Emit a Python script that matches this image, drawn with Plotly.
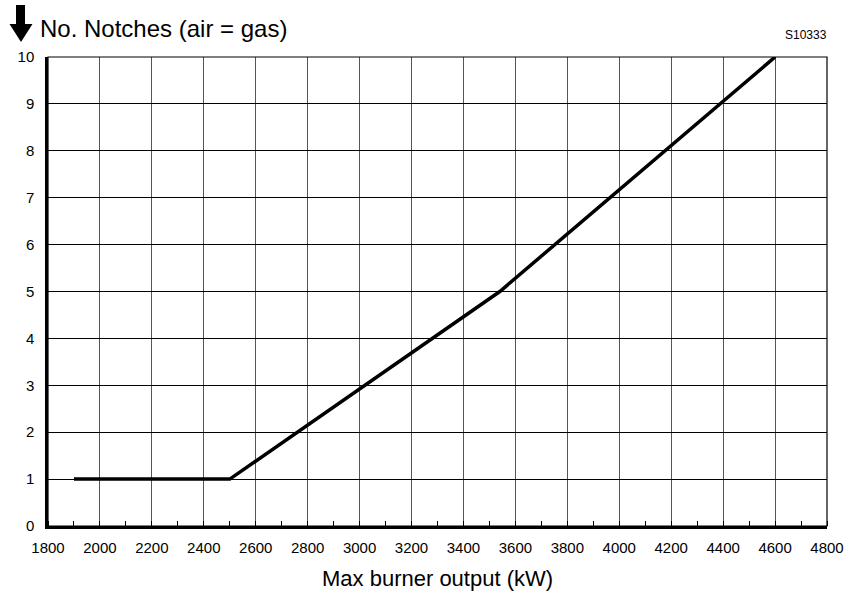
import plotly.graph_objects as go

# Data
output_kw = [1900, 2500, 3540, 4600]
notches = [1, 1, 5, 10]
x_ticks = list(range(1800, 4801, 200))
y_ticks = list(range(0, 11))

FONT = "Liberation Sans, Arial, sans-serif"

fig = go.Figure()
fig.add_trace(go.Scatter(x=output_kw, y=notches, mode="lines",
                         line=dict(color="black", width=3.5), hoverinfo="skip",
                         showlegend=False))

W, H = 846, 594
PL, PR, PT, PB = 48, 827, 57, 526   # plot area in window pixels
L, T, R, B = PL, PT, W - PR, H - PB
pw, ph = PR - PL, PB - PT

def px(xp):
    return (xp - PL) / pw

def py(yp):
    return (PB - yp) / ph

# Down arrow glyph next to y title
ax = [(16, 5), (25, 5), (25, 24), (32.5, 24), (21, 42), (9.5, 24), (16, 24)]
path = "M " + " L ".join(f"{px(a):.5f},{py(b):.5f}" for a, b in ax) + " Z"
fig.add_shape(type="path", path=path, xref="paper", yref="paper",
              fillcolor="black", line=dict(color="black", width=0))

# Frame
fig.add_shape(type="rect", xref="paper", yref="paper", x0=0, y0=0, x1=1, y1=1,
              line=dict(color="black", width=1.2), layer="above")

fig.add_annotation(text="No. Notches (air = gas)", xref="paper", yref="paper",
                   x=px(38), y=py(28), xanchor="left", yanchor="middle",
                   showarrow=False, font=dict(family=FONT, size=24, color="black"))
fig.add_annotation(text="S10333", xref="paper", yref="paper",
                   x=px(829), y=py(35), xanchor="right", yanchor="middle",
                   showarrow=False, font=dict(family=FONT, size=12, color="black"))
fig.add_annotation(text="Max burner output (kW)", xref="paper", yref="paper",
                   x=px(437), y=py(578), xanchor="center", yanchor="middle",
                   showarrow=False, font=dict(family=FONT, size=22, color="black"))

fig.update_layout(
    width=W, height=H,
    margin=dict(l=L, r=R, t=T, b=B, autoexpand=False),
    paper_bgcolor="white", plot_bgcolor="white",
    font=dict(family=FONT, size=15, color="black"),
    xaxis=dict(range=[1800, 4800], tickvals=x_ticks, ticktext=[str(v) for v in x_ticks],
               showgrid=True, gridcolor="#555555", gridwidth=1,
               showline=True, linecolor="black", linewidth=2.5,
               ticks="", zeroline=False, automargin=False,
               minor=dict(ticks="inside", ticklen=5, tickcolor="black", tickwidth=1,
                          dtick=100, tick0=1800, showgrid=False),
               tickfont=dict(size=15), ticklabelstandoff=6),
    yaxis=dict(range=[0, 10], tickvals=y_ticks, showgrid=True, gridcolor="black",
               gridwidth=1, showline=True, linecolor="black", linewidth=2.5,
               ticks="", zeroline=False, automargin=False,
               tickfont=dict(size=15), ticklabelstandoff=8),
)

fig.write_html("out.html", config={"displayModeBar": False},
               post_script="document.body.style.margin='0';document.body.style.overflow='hidden';")
